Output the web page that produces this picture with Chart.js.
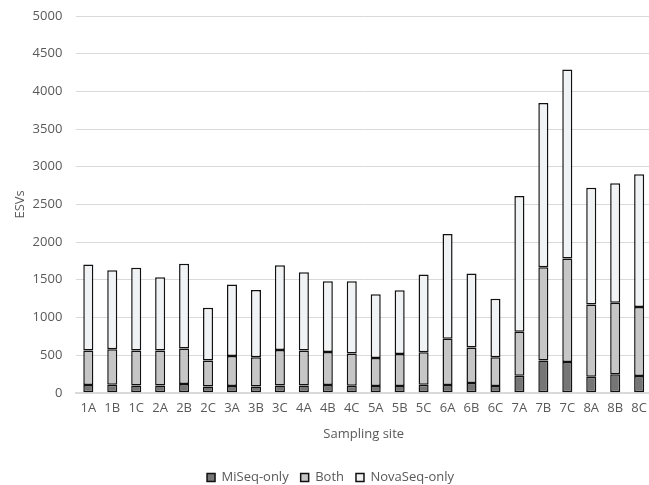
<!DOCTYPE html>
<html>
<head>
<meta charset="utf-8">
<script src="https://cdn.jsdelivr.net/npm/chart.js@4/dist/chart.umd.min.js"></script>
<style>
  html, body { margin: 0; padding: 0; background: #ffffff; overflow: hidden; }
  #wrap { position: relative; width: 655px; height: 485px; }
</style>
</head>
<body>
<div id="wrap"><canvas id="c"></canvas></div>
<script>
const categories = ["1A","1B","1C","2A","2B","2C","3A","3B","3C","4A","4B","4C","5A","5B","5C","6A","6B","6C","7A","7B","7C","8A","8B","8C"];
const miseqOnly = [103,107,98,98,116,85,89,85,98,98,103,94,89,89,107,103,129,89,227,427,409,213,245,223];
const both      = [457,471,462,462,471,342,400,386,471,462,440,426,374,427,431,613,471,382,582,1240,1374,960,951,916];
const novaOnly  = [1143,1049,1098,973,1125,702,947,894,1124,1040,937,960,844,844,1031,1390,982,778,1804,2178,2506,1547,1583,1760];
const yTicks = [0,500,1000,1500,2000,2500,3000,3500,4000,4500,5000];

const textColor = '#595959';
const fontFamily = '"Open Sans", "Liberation Sans", sans-serif';

function ds(label, data, color) {
  return {
    label: label,
    data: data,
    backgroundColor: color,
    borderColor: '#111111',
    borderWidth: 1.5,
    borderSkipped: false,
    categoryPercentage: 1.0,
    barPercentage: 0.42
  };
}

const legendShift = {
  id: 'legendShift',
  afterLayout(chart) {
    if (chart.legend) {
      chart.legend.top += 9;
      chart.legend.bottom += 9;
    }
  }
};

new Chart(document.getElementById('c'), {
  type: 'bar',
  data: {
    labels: categories,
    datasets: [
      ds('MiSeq-only', miseqOnly, '#767676'),
      ds('Both', both, '#c6c6c6'),
      ds('NovaSeq-only', novaOnly, '#f1f2f3')
    ]
  },
  plugins: [legendShift],
  options: {
    responsive: true,
    maintainAspectRatio: false,
    animation: false,
    layout: { padding: { top: 16, left: 8, right: 2, bottom: 0 } },
    plugins: {
      legend: {
        position: 'bottom',
        labels: {
          boxWidth: 8,
          boxHeight: 8,
          padding: 12,
          color: textColor,
          font: { family: fontFamily, size: 13 }
        }
      },
      tooltip: { enabled: false }
    },
    scales: {
      x: {
        stacked: true,
        grid: { display: false, drawTicks: false },
        border: { display: true, color: '#d9d9d9', width: 2 },
        ticks: { color: textColor, padding: 8, font: { family: fontFamily, size: 13 }, maxRotation: 0, autoSkip: false },
        title: { display: true, text: 'Sampling site', color: textColor, font: { family: fontFamily, size: 13 }, padding: { top: 2, bottom: 8 } }
      },
      y: {
        stacked: true,
        min: 0,
        max: 5000,
        afterBuildTicks: (axis) => { axis.ticks = yTicks.map(v => ({ value: v })); },
        grid: { color: '#d9d9d9', lineWidth: 1, drawTicks: true, tickLength: 12, tickColor: 'rgba(0,0,0,0)' },
        border: { display: false },
        ticks: { color: textColor, padding: 2, font: { family: fontFamily, size: 13 }, callback: (v) => String(v) },
        title: { display: true, text: 'ESVs', color: textColor, font: { family: fontFamily, size: 13 }, padding: { top: 4, bottom: 3 } }
      }
    }
  }
});
</script>
</body>
</html>
